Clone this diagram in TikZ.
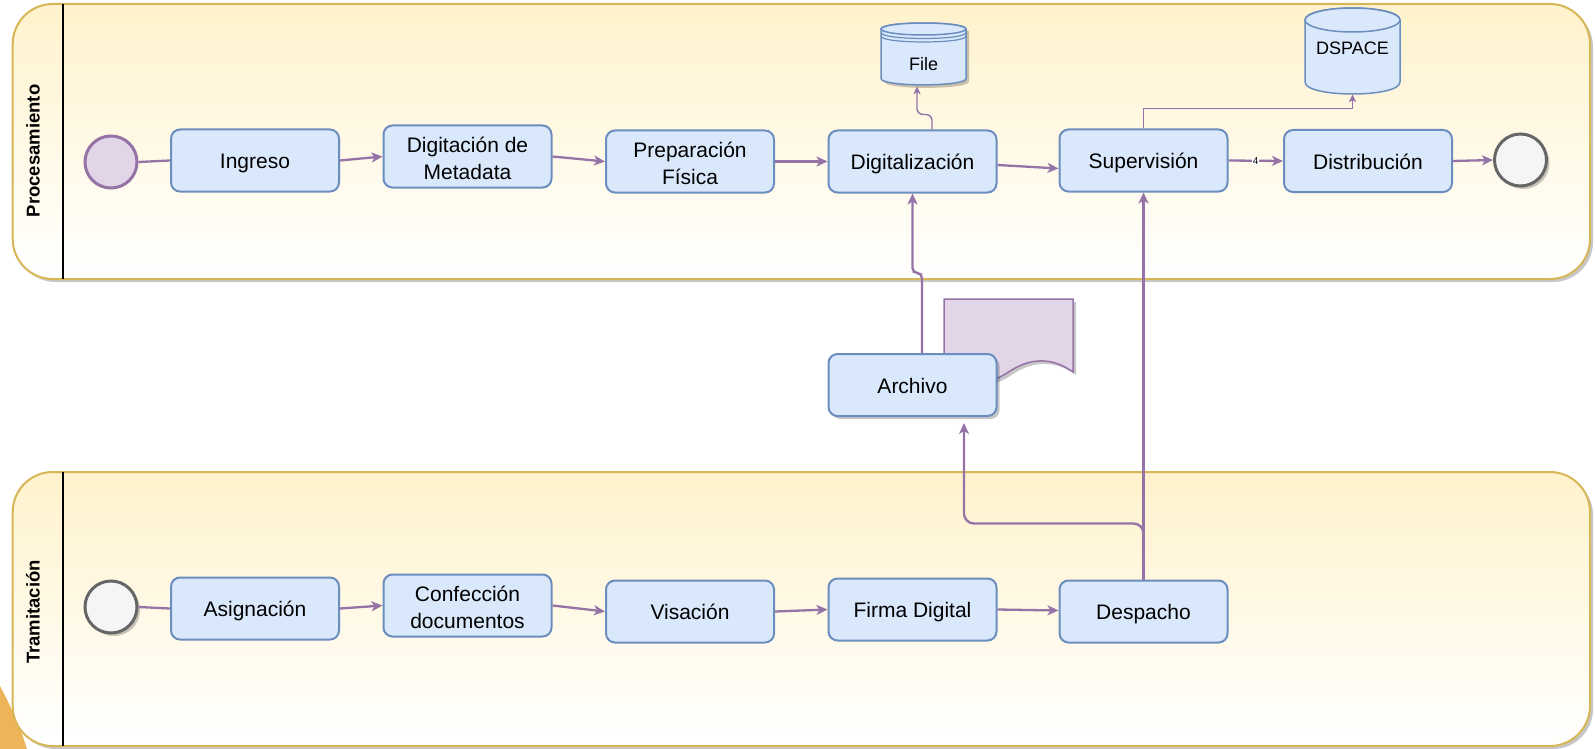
\documentclass[tikz,border=0pt]{standalone}
\usepackage{fontspec}
\setmainfont{Liberation Sans}
\usetikzlibrary{arrows.meta,shadows,calc}
\definecolor{laneY}{HTML}{FFF2CC}
\definecolor{laneS}{HTML}{D6B656}
\definecolor{boxF}{HTML}{DAE8FC}
\definecolor{boxS}{HTML}{6C8EBF}
\definecolor{purF}{HTML}{E1D5E7}
\definecolor{purS}{HTML}{9673A6}
\definecolor{grF}{HTML}{F5F5F5}
\definecolor{grS}{HTML}{666666}
\definecolor{blobC}{HTML}{EDB458}
\begin{document}
\begin{tikzpicture}[x=1pt,y=-1pt,
  shad/.style={drop shadow={shadow xshift=3pt, shadow yshift=-3pt, opacity=0.22, fill=black}},
  lane/.style={draw=laneS, line width=2, rounded corners=40, top color=laneY, bottom color=white, shad},
  lanelabel/.style={rotate=90, font=\fontsize{18.5}{22}\selectfont\bfseries, inner sep=0},
  task/.style={draw=boxS, fill=boxF, line width=2, rounded corners=9, minimum width=168, minimum height=62, inner sep=2, align=center, font=\fontsize{21}{26.5}\selectfont},
  oneline/.style={text height=16.5pt, text depth=0pt},
  startev/.style={circle, draw=purS, fill=purF, line width=3, minimum size=52, inner sep=0},
  greyev/.style={circle, draw=grS, fill=grF, line width=3, minimum size=52, inner sep=0, shad},
  conn/.style={draw=purS, line width=2.3, -{Stealth[length=11pt,width=10pt,inset=3pt]}},
  thinconn/.style={draw=purS, line width=1.4, -{Stealth[length=8pt,width=7pt,inset=2pt]}},
  plain/.style={draw=purS, line width=2.3},
  store/.style={draw=boxS, fill=boxF, line width=1.5},
  lbl/.style={font=\fontsize{18}{21}\selectfont, inner sep=0}
]
\useasboundingbox (0,0) rectangle (1595,749);
% decorative corner blob
\fill[blobC] (0,686) .. controls (10,705) and (20,726) .. (27,749) -- (0,749) -- cycle;
% lanes
\draw[lane] (12.7,4) rectangle (1590,279);
\draw[lane] (12.7,472) rectangle (1590,746);
\draw[line width=2] (63,4) -- (63,279);
\draw[line width=2] (63,472) -- (63,746);
\node[lanelabel] (lp) at (33,151) {Procesamiento};
\node[lanelabel] (lt) at (33,612) {Tramitación};
% document shape
\path[fill=purF, draw=purS, line width=1.5, shad] (944,299) -- (1073,299) -- (1073,372)
  .. controls (1052.2,357.2) and (1030.7,357.2) .. (1008.5,372)
  .. controls (987,386.5) and (965.5,386.5) .. (944,372) -- cycle;
% File datastore
\path[store, shad] (881,29) -- (881,78.5) .. controls (881,87) and (966,87) .. (966,78.5) -- (966,29)
  .. controls (966,21) and (881,21) .. cycle;
\path[store] (923.5,29) ellipse [x radius=42.5, y radius=6];
\draw[boxS, line width=1.2] (881,32.5) .. controls (881,40.5) and (966,40.5) .. (966,32.5);
\draw[boxS, line width=1.2] (881,36) .. controls (881,44) and (966,44) .. (966,36);
\node[lbl, minimum width=85, minimum height=63] (file) at (923.5,54.5) {};
\node[lbl] (filetxt) at (923.5,64) {File};
% DSPACE cylinder
\path[store] (1305,20) -- (1305,82) .. controls (1305,98) and (1400,98) .. (1400,82) -- (1400,20)
  .. controls (1400,4) and (1305,4) .. cycle;
\path[store] (1352.5,20) ellipse [x radius=47.5, y radius=12];
\node[lbl, minimum width=95, minimum height=86] (dspace) at (1352.5,51) {};
\node[lbl] (dspacetxt) at (1352.5,48) {DSPACE};
% events
\node[startev] (s1) at (111,162) {};
\node[greyev] (e1) at (1520.5,160) {};
\node[greyev] (s2) at (111,607) {};
% tasks top
\node[task, oneline] (ingreso) at (255,160.5) {Ingreso};
\node[task] (digit) at (467.5,156.5) {\rule{0pt}{19pt}Digitación de\\Metadata};
\node[task] (prep) at (690,161.5) {\rule{0pt}{19pt}Preparación\\Física};
\node[task, oneline] (dig) at (912.5,161.5) {Digitalización};
\node[task, oneline] (sup) at (1143.5,160.5) {Supervisión};
\node[task, oneline] (dist) at (1368,161) {Distribución};
% archivo
\node[task, oneline, shad] (arch) at (912.5,385) {Archivo};
% tasks bottom
\node[task, oneline] (asig) at (255,608.5) {Asignación};
\node[task] (conf) at (467.5,605.5) {\rule{0pt}{19pt}Confección\\documentos};
\node[task, oneline] (visa) at (690,611.5) {Visación};
\node[task, oneline] (firma) at (912.5,609.5) {Firma Digital};
\node[task, oneline] (desp) at (1143.5,611.5) {Despacho};
% connectors top
\draw[plain] (s1.east) -- (ingreso.west);
\draw[conn] (ingreso.east) -- (digit.west);
\draw[conn] (digit.east) -- (prep.west);
\draw[conn] (prep.east) -- (dig.west);
\draw[conn] ($(dig.east)+(0,3.5)$) -- ($(sup.west)+(0,8)$);
\draw[conn] (sup.east) -- node[fill=white, inner sep=0.6, font=\fontsize{10}{12}\selectfont] (four) {4} (dist.west);
\draw[conn] (dist.east) -- (e1.west);
\draw[thinconn, rounded corners=6] ([xshift=19.5pt]dig.north) -- ++(0,-15) -| ([xshift=-6.5pt]file.south);
\draw[thinconn] (sup.north) -- ++(0,-20) -| (dspace.south);
% connectors bottom
\draw[plain] (s2.east) -- (asig.west);
\draw[conn] (asig.east) -- (conf.west);
\draw[conn] (conf.east) -- (visa.west);
\draw[conn] (visa.east) -- (firma.west);
\draw[conn] (firma.east) -- ($(desp.west)+(0,-1)$);
% cross-lane connectors
\draw[conn, rounded corners=5] ([xshift=9.5pt]arch.north) -- ++(0,-80) -| (dig.south);
\draw[conn] (desp.north) -- (sup.south);
\draw[conn, rounded corners=10] (desp.north) -- ++(0,-56) -| ($(arch.south)+(51.5,6)$);
\end{tikzpicture}
\end{document}
